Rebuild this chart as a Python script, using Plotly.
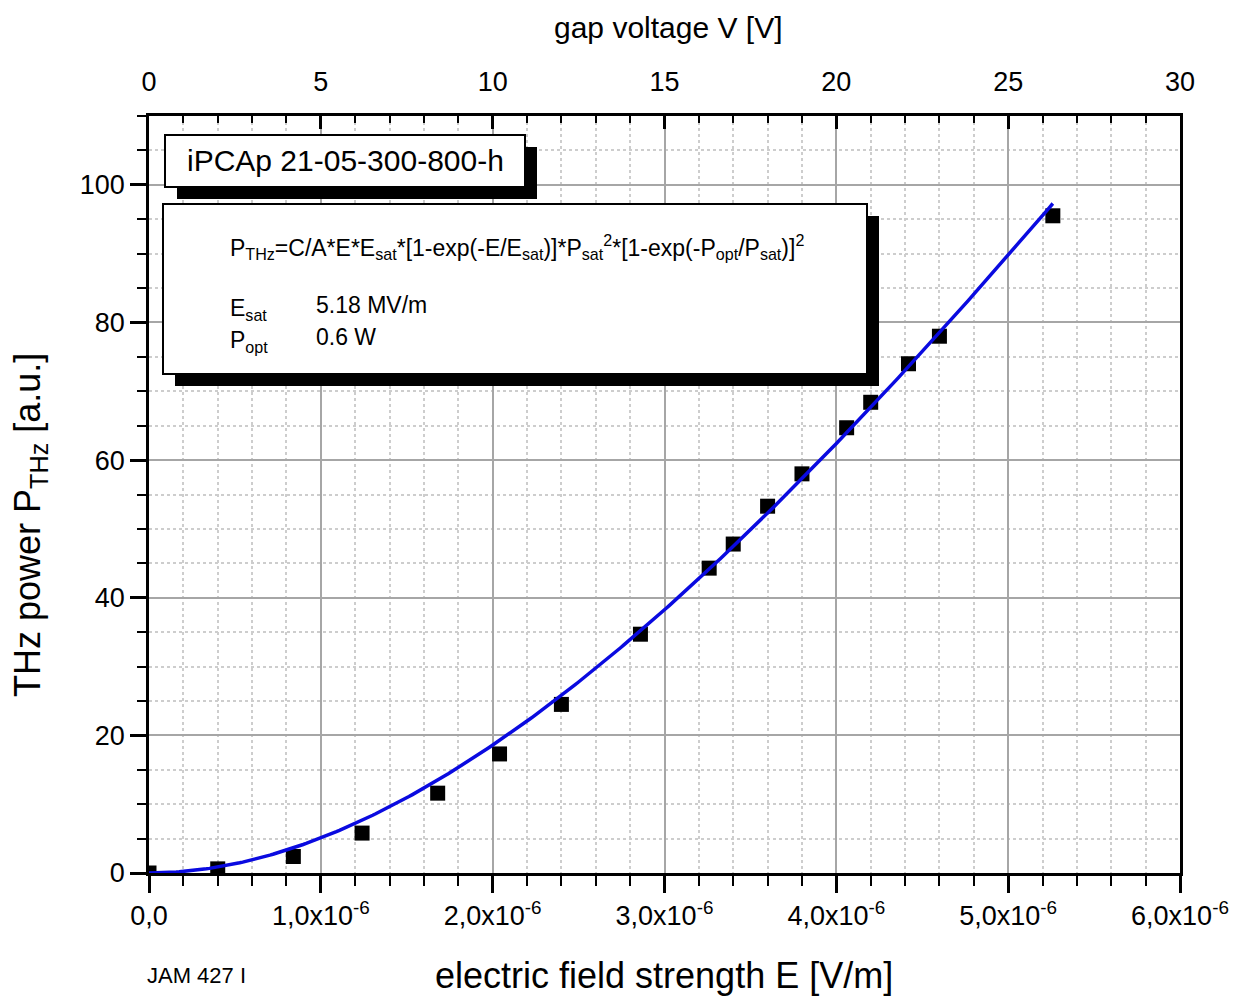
import numpy as np
import plotly.graph_objects as go

FONT = "Liberation Sans, Arial, sans-serif"

# Measured THz power versus electric field strength
e_field = [0.0, 0.40e-6, 0.84e-6, 1.24e-6, 1.68e-6, 2.04e-6, 2.40e-6, 2.86e-6,
           3.26e-6, 3.40e-6, 3.60e-6, 3.80e-6, 4.06e-6, 4.20e-6, 4.42e-6,
           4.60e-6, 5.26e-6]
p_thz = [0.0, 0.6, 2.4, 5.8, 11.6, 17.3, 24.5, 34.7,
         44.3, 47.8, 53.3, 58.0, 64.7, 68.4, 74.0,
         78.0, 95.5]

# Fit parameters (field in units of 1e-6 on the bottom axis)
E_UNIT = 1e-6
E_SAT = 5.18          # MV/m
P_OPT = 0.6           # W
FIT_SCALE = 29.0      # combined prefactor C/A*Esat*Psat^2*[...]^2, a.u.
FIT_E_MAX = 5.26e-6

# Axis ticks
x_tickvals = [0, 1e-6, 2e-6, 3e-6, 4e-6, 5e-6, 6e-6]
x_ticktext = ["0,0", "1,0x10<sup>-6</sup>", "2,0x10<sup>-6</sup>", "3,0x10<sup>-6</sup>",
              "4,0x10<sup>-6</sup>", "5,0x10<sup>-6</sup>", "6,0x10<sup>-6</sup>"]
v_tickvals = [0, 5, 10, 15, 20, 25, 30]
y_tickvals = [0, 20, 40, 60, 80, 100]

# Fit curve from the model P = k * E * [1 - exp(-E/Esat)]
fit_e = np.linspace(0, FIT_E_MAX, 300)
fit_p = FIT_SCALE * (fit_e / E_UNIT) * (1 - np.exp(-(fit_e / E_UNIT) / E_SAT))

# Plot-area geometry in pixels, for placing boxes and labels
L, R, T, B = 149, 1180, 116, 873
W, H = 1235, 996


def px(xp):
    return (xp - L) / (R - L)


def py(yp):
    return (B - yp) / (B - T)


fig = go.Figure()

fig.add_trace(go.Scatter(
    x=e_field, y=p_thz, mode="markers",
    marker=dict(symbol="square", size=15, color="black", line=dict(width=0)),
    showlegend=False, hoverinfo="x+y"))

fig.add_trace(go.Scatter(
    x=fit_e, y=fit_p, mode="lines",
    line=dict(color="#0a0ae0", width=3.5),
    showlegend=False, hoverinfo="skip"))

# invisible trace so the gap-voltage axis is created
fig.add_trace(go.Scatter(
    x=[v_tickvals[0], v_tickvals[-1]], y=[0, 0], xaxis="x2", yaxis="y",
    mode="markers", marker=dict(opacity=0), showlegend=False, hoverinfo="skip"))

tick_font = dict(family=FONT, size=27, color="black")
major_grid = "#a6a6a6"
minor_grid = "#cdcdcd"

fig.update_layout(
    width=W, height=H,
    margin=dict(l=L, r=W - R, t=T, b=H - B, autoexpand=False),
    paper_bgcolor="white", plot_bgcolor="white",
    font=dict(family=FONT, color="black"),
    showlegend=False,
    xaxis=dict(
        range=[0, 6e-6], tickmode="array", tickvals=x_tickvals, ticktext=x_ticktext,
        ticks="outside", ticklen=17, tickwidth=2.5, tickcolor="black",
        showline=True, linewidth=2.5, linecolor="black", mirror=False,
        showgrid=True, gridcolor=major_grid, gridwidth=1.5, zeroline=False,
        tickfont=tick_font, automargin=False,
        minor=dict(tickmode="linear", tick0=0, dtick=0.2e-6, ticks="outside",
                   ticklen=10, tickwidth=2, tickcolor="black",
                   showgrid=True, gridcolor=minor_grid, griddash="dot", gridwidth=1.5),
    ),
    xaxis2=dict(
        overlaying="x", side="top", anchor="y",
        range=[0, 30], tickmode="array", tickvals=v_tickvals,
        ticks="inside", ticklen=13, tickwidth=2.5, tickcolor="black",
        showline=True, linewidth=2.5, linecolor="black",
        showgrid=False, zeroline=False, tickfont=tick_font, ticklabelstandoff=11,
        automargin=False,
        minor=dict(tickmode="linear", tick0=0, dtick=1, ticks="inside",
                   ticklen=7, tickwidth=2, tickcolor="black", showgrid=False),
    ),
    yaxis=dict(
        range=[0, 110], tickmode="array", tickvals=y_tickvals,
        ticks="outside", ticklen=16, tickwidth=2.5, tickcolor="black",
        showline=True, linewidth=2.5, linecolor="black", mirror=True,
        showgrid=True, gridcolor=major_grid, gridwidth=1.5, zeroline=False,
        tickfont=tick_font, automargin=False,
        minor=dict(tickmode="linear", tick0=0, dtick=5, ticks="outside",
                   ticklen=9, tickwidth=2, tickcolor="black",
                   showgrid=True, gridcolor=minor_grid, griddash="dot", gridwidth=1.5),
    ),
)

# Boxes with drop shadow
shapes = []


def shadow_box(x0, y0, x1, y1, off=11):
    shapes.append(dict(type="rect", xref="paper", yref="paper",
                       x0=px(x0 + off), x1=px(x1 + off), y0=py(y1 + off), y1=py(y0 + off),
                       fillcolor="black", line=dict(width=0), layer="above"))
    shapes.append(dict(type="rect", xref="paper", yref="paper",
                       x0=px(x0), x1=px(x1), y0=py(y1), y1=py(y0),
                       fillcolor="white", line=dict(color="black", width=2), layer="above"))


shadow_box(165, 135, 525, 187, off=12)
shadow_box(163, 204, 867, 374, off=12)
fig.update_layout(shapes=shapes)

ann = []


def text(xp, yp, s, size, xanchor="left", yanchor="middle", angle=0):
    ann.append(dict(x=px(xp), y=py(yp), xref="paper", yref="paper", text=s,
                    showarrow=False, xanchor=xanchor, yanchor=yanchor, textangle=angle,
                    font=dict(family=FONT, size=size, color="black")))


text(345, 161, "iPCAp 21-05-300-800-h", 30, xanchor="center")
text(228, 247,
     "P<sub>THz</sub>=C/A*E*E<sub>sat</sub>*[1-exp(-E/E<sub>sat</sub>)]*P<sub>sat</sub>"
     "<sup>2</sup>*[1-exp(-P<sub>opt</sub>/P<sub>sat</sub>)]<sup>2</sup>", 23)
text(228, 309, "E<sub>sat</sub>", 23)
text(314, 305, f"{E_SAT:.2f} MV/m", 23)
text(228, 341, "P<sub>opt</sub>", 23)
text(314, 337, f"{P_OPT} W", 23)

text(664, 975, "electric field strength E [V/m]", 36, xanchor="center")
text(668, 27, "gap voltage V [V]", 30, xanchor="center")
text(30, 525, "THz power P<sub>THz</sub> [a.u.]", 36, xanchor="center", angle=-90)
text(145, 975, "JAM 427 I", 22)

fig.update_layout(annotations=ann)

fig.write_html("out.html")
